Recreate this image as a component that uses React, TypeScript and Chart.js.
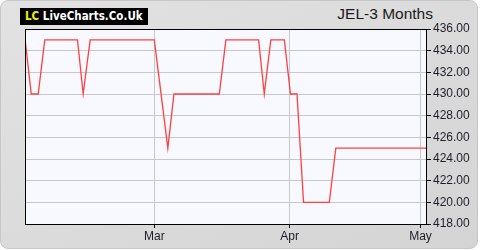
import React, { useEffect, useRef } from "react";
import { Chart, registerables } from "chart.js";

Chart.register(...registerables);

// Day-of-year positions (Jan 1 = 0) of the price turning points
const dayPositions: number[] = [
  29.4, 30.8, 32.4, 33.9, 41.4, 42.7, 44.3, 59.0, 62.1, 63.5, 73.9,
  75.4, 82.9, 84.2, 85.7, 88.8, 90.2, 91.7, 93.2, 99.1, 100.6, 121.3,
];
const prices: number[] = [
  435, 430, 430, 435, 435, 430, 435, 435, 425, 430, 430,
  435, 435, 430, 435, 435, 430, 430, 420, 420, 425, 425,
];
const monthTickDays: number[] = [59, 90, 120];
const monthTickLabels: string[] = ["Mar", "Apr", "May"];
const xMin = 29.37;
const xMax = 121.26;
const yMin = 418;
const yMax = 436;
const yStep = 2;
const titleText = "JEL-3 Months";

export default function App() {
  const canvasRef = useRef<HTMLCanvasElement | null>(null);

  useEffect(() => {
    document.body.style.margin = "0";
    const canvas = canvasRef.current;
    if (!canvas) return;

    const framePlugin = {
      id: "frame",
      beforeDraw(chart: any) {
        const { ctx, chartArea: a } = chart;
        ctx.save();
        ctx.fillStyle = "#f8f8ff";
        ctx.fillRect(a.left, a.top, a.right - a.left, a.bottom - a.top);
        ctx.restore();
      },
      afterDraw(chart: any) {
        const { ctx, chartArea: a } = chart;
        ctx.save();
        ctx.strokeStyle = "#000";
        ctx.lineWidth = 1;
        ctx.strokeRect(
          Math.round(a.left) + 0.5,
          Math.round(a.top) + 0.5,
          Math.round(a.right) - Math.round(a.left),
          Math.round(a.bottom) - Math.round(a.top)
        );
        ctx.restore();
      },
    };

    const chart = new Chart(canvas, {
      type: "line",
      data: {
        datasets: [
          {
            data: dayPositions.map((d, i) => ({ x: d, y: prices[i] })),
            borderColor: "#ff4040",
            borderWidth: 1.3,
            pointRadius: 0,
            tension: 0,
            fill: false,
          },
        ],
      },
      options: {
        animation: false,
        responsive: false,
        maintainAspectRatio: false,
        layout: { padding: { left: 25, top: 29, right: 0, bottom: 0 } },
        plugins: {
          legend: { display: false },
          tooltip: { enabled: false },
        },
        scales: {
          x: {
            type: "linear",
            min: xMin,
            max: xMax,
            afterBuildTicks: (scale: any) => {
              scale.ticks = monthTickDays.map((v) => ({ value: v }));
            },
            afterFit: (scale: any) => {
              scale.height = 26;
            },
            ticks: {
              autoSkip: false,
              maxRotation: 0,
              padding: 1,
              color: "#1e1e28",
              font: { family: "'Liberation Sans', Arial, sans-serif", size: 12 },
              callback: (v: any) => {
                const i = monthTickDays.indexOf(Number(v));
                return i >= 0 ? monthTickLabels[i] : "";
              },
            },
            grid: {
              color: "#c8c8c8",
              tickColor: "#000",
              tickLength: 4,
              drawOnChartArea: true,
            },
            border: { display: false },
          },
          y: {
            position: "right",
            min: yMin,
            max: yMax,
            afterFit: (scale: any) => {
              scale.width = 54;
            },
            ticks: {
              stepSize: yStep,
              padding: 2,
              color: "#1e1e28",
              font: { family: "'Liberation Sans', Arial, sans-serif", size: 12 },
              callback: (v: any) => Number(v).toFixed(2),
            },
            grid: {
              color: "#c8c8c8",
              tickColor: "#000",
              tickLength: 5,
            },
            border: { display: false },
          },
        },
      },
      plugins: [framePlugin],
    });

    return () => chart.destroy();
  }, []);

  return (
    <div style={{ position: "relative", width: 480, height: 250, background: "#fff", overflow: "hidden" }}>
      <div
        style={{
          position: "absolute",
          left: 0,
          top: 0,
          width: 476,
          height: 247,
          borderRadius: 8,
          border: "1px solid #c6c6c6",
          background: "linear-gradient(to bottom right, #e2e2e2, #d4d4d4)",
        }}
      />
      <div
        style={{
          position: "absolute",
          left: 20,
          top: 8,
          width: 128,
          height: 17,
          background: "#000",
          color: "#fff",
          fontFamily: "'DejaVu Sans Condensed', 'DejaVu Sans', sans-serif",
          fontWeight: "bold",
          fontSize: 11.5,
          lineHeight: "17px",
          whiteSpace: "nowrap",
          paddingLeft: 5,
          boxSizing: "border-box",
        }}
      >
        <span style={{ color: "#f0f000" }}>LC</span> LiveCharts.Co.Uk
      </div>
      <div
        style={{
          position: "absolute",
          right: 47,
          top: 5,
          fontFamily: "'Liberation Sans', Arial, sans-serif",
          fontSize: 15.5,
          color: "#1a1a1a",
          whiteSpace: "nowrap",
        }}
      >
        {titleText}
      </div>
      <canvas ref={canvasRef} width={480} height={250} style={{ position: "absolute", left: 0, top: 0 }} />
    </div>
  );
}
